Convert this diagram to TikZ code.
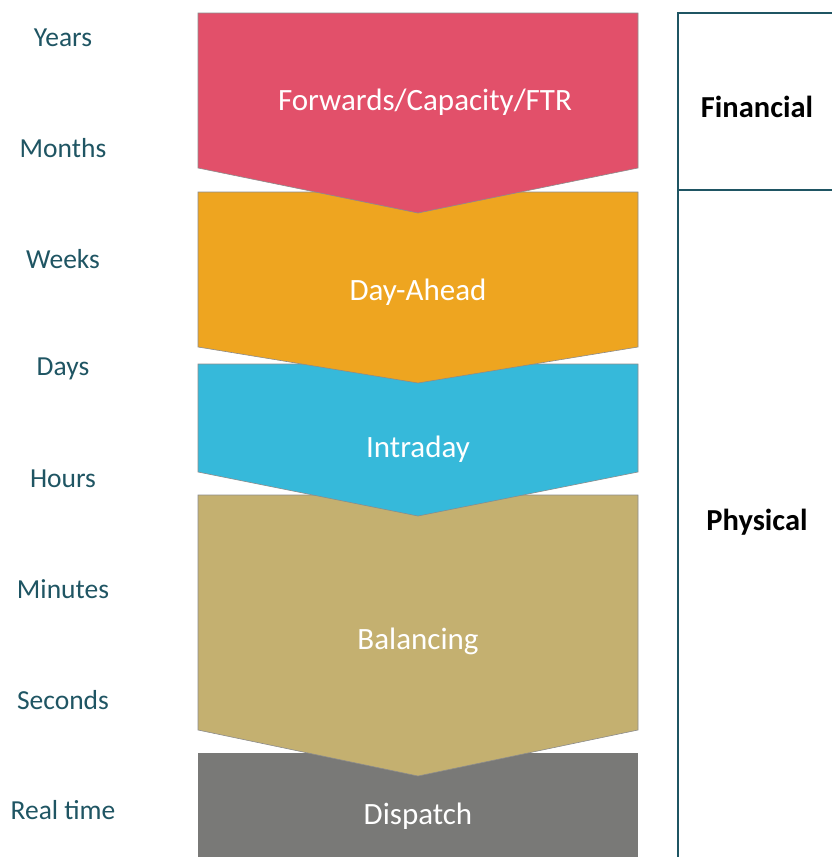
\documentclass[tikz,border=0pt]{standalone}
\usepackage{fontspec}
\setmainfont{Carlito}
\usepackage{tikz}

\definecolor{ftr}{HTML}{E2506A}
\definecolor{dayahead}{HTML}{EEA520}
\definecolor{intraday}{HTML}{36B9DA}
\definecolor{balance}{HTML}{C4B070}
\definecolor{dispatch}{HTML}{797977}
\definecolor{teal}{HTML}{1F5563}

\begin{document}
\begin{tikzpicture}[x=1pt, y=-1pt, node distance={110.3pt},
		tick/.style={text=teal, font=\fontsize{27.5}{30}\selectfont},
		market/.style={text=white, font=\fontsize{31}{34}\selectfont},
		side/.style={text=black, font=\bfseries\fontsize{30.5}{34}\selectfont},
		band/.style={draw=gray!90, line width=0.6pt}]
		\useasboundingbox (0,0) rectangle (832,857);

		% chevrons, bottom one first
		\fill[dispatch] (198,753) rectangle (638,857);
		\filldraw[band, fill=balance] (198,495) -- (638,495) -- (638,730) -- (418,776) -- (198,730) -- cycle;
		\filldraw[band, fill=intraday] (198,364) -- (638,364) -- (638,472) -- (418,516) -- (198,472) -- cycle;
		\filldraw[band, fill=dayahead] (198,192) -- (638,192) -- (638,347) -- (418,383) -- (198,347) -- cycle;
		\filldraw[band, fill=ftr] (198,13) -- (638,13) -- (638,168) -- (418,213) -- (198,168) -- cycle;

		\node[market] (fwd) at (425,102) {Forwards/Capacity/FTR};
		\node[market] (da) at (418,292) {Day-Ahead};
		\node[market] (id) at (418,449) {Intraday};
		\node[market] (bal) at (418,641) {Balancing};
		\node[market] (disp) at (418,816) {Dispatch};

		% time scale
		\node[tick] (1) at (63,38) {Years};
		\node[tick] (2) [below of=1] {Months};
		\node[tick] (3) [below of=2] {Weeks};
		\node[tick] (4) [below of=3] {Days};
		\node[tick] (5) [below of=4] {Hours};
		\node[tick] (6) [below of=5] {Minutes};
		\node[tick] (7) [below of=6] {Seconds};
		\node[tick] (8) [below of=7] {Real time};

		% financial / physical
		\coordinate (tl) at (678,13);
		\coordinate (tr) at (832,13);
		\coordinate (ml) at (678,190);
		\coordinate (mr) at (832,190);
		\coordinate (bl) at (678,857);
		\draw[teal, line width=1.5pt] (bl) -- (tl) -- (tr);
		\draw[teal, line width=1.5pt] (ml) -- (mr);
		\node[side] (fin) at (757,107) {Financial};
		\node[side] (phy) at (757,522) {Physical};
	\end{tikzpicture}
\end{document}
